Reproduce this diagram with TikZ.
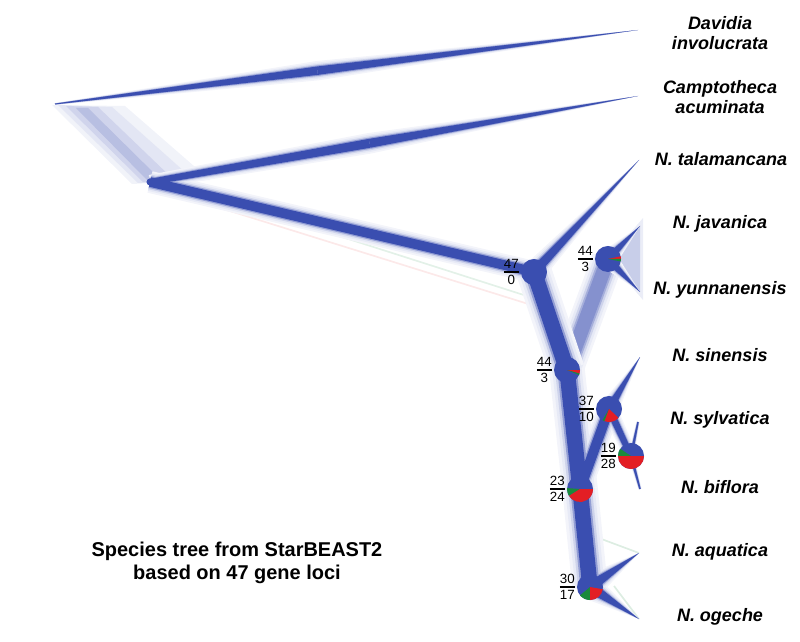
\documentclass[tikz,border=0pt]{standalone}
\usepackage{amsmath}
\usepackage{fontspec}
\setmainfont{Liberation Sans}
\usetikzlibrary{calc,positioning}

\definecolor{tree}{RGB}{58,78,176}
\definecolor{pred}{RGB}{227,30,36}
\definecolor{pgreen}{RGB}{26,138,60}

% tapered branch: from, to, half width at from, half width at to
\newcommand{\limb}[4]{%
  \fill[fill=\tone] ($(#1)!\wf*#3!90:(#2)$) -- ($(#2)!\wf*#4!-90:(#1)$)
    -- ($(#2)!\wf*#4!90:(#1)$) -- ($(#1)!\wf*#3!-90:(#2)$) -- cycle;}
% pie slice: node, colour, start, end
\newcommand{\slice}[4]{\fill[#2] (#1.center) -- ++(#3:9.25pt) arc[start angle=#3, end angle=#4, radius=9.25pt] -- cycle;}
\newcommand{\concord}[2]{$\genfrac{}{}{1.6pt}{}{\mbox{#1}}{\mbox{#2}}$}

\begin{document}
\begin{tikzpicture}[x=0.025cm, y=-0.025cm,
  pie/.style={circle, fill=tree, minimum size=18.5pt, inner sep=0pt},
  frac/.style={font=\fontsize{9.5}{10}\selectfont, inner sep=0pt},
  taxon/.style={font=\fontsize{12.8}{14.2}\selectfont\bfseries\itshape, align=center},
  faint/.style={line width=1.2pt}]
\useasboundingbox (0,0) rectangle (800,642);

% branch points
\coordinate (R) at (55,104);
\coordinate (kCam) at (150,182);
\coordinate (k47) at (534,272);
\coordinate (k44a) at (608,259);
\coordinate (k44b) at (567,370);
\coordinate (k37) at (609,409);
\coordinate (k19) at (631,456);
\coordinate (k23) at (580,489);
\coordinate (k30) at (590,587);
% tips
\coordinate (tD) at (638,30);
\coordinate (tC) at (638,96);
\coordinate (tT) at (639,160);
\coordinate (tJ) at (640,226);
\coordinate (tY) at (640,292);
\coordinate (tS) at (640,357);
\coordinate (tSy) at (638,422);
\coordinate (tB) at (640,489);
\coordinate (tA) at (639,553);
\coordinate (tO) at (639,619);
\coordinate (mD) at ($(R)!0.45!(tD)$);
\coordinate (mC) at ($(kCam)!0.45!(tC)$);
\coordinate (f1) at (185,197);
\coordinate (f2) at (538,307);
\coordinate (g1) at (195,190);
\coordinate (g2) at (530,297);
\coordinate (g3) at (596,537);
\coordinate (g4) at (614,586);

% faint gene tree lines
\draw[faint, pred!10] (f1) -- (f2) -- (k44b);
\draw[faint, pgreen!12] (g1) -- (g2);
\draw[faint, pgreen!15] (g3) -- (tA);
\draw[faint, pgreen!15] (g4) -- (tO);

% root fuzz
\fill[tree!7] (52,105) -- (125,106) -- (210,180) -- (132,184) -- cycle;
\fill[tree!14] (58,105) -- (112,107) -- (195,181) -- (138,183) -- cycle;
\fill[tree!24] (66,106) -- (98,107) -- (175,181) -- (143,182) -- cycle;
\fill[tree!36] (76,108) -- (88,108) -- (162,181) -- (149,182) -- cycle;
\fill[tree!10] (k44a) -- (643,218) -- (643,300) -- cycle;
\fill[tree!28] (k44a) -- (tJ) -- (tY) -- cycle;

\foreach \wf/\tone in {2.3/tree!6, 1.9/tree!12, 1.55/tree!25, 1.25/tree!45, 1/tree!62}{
  \limb{k44b}{k44a}{5pt}{5pt}
}
\foreach \wf/\tone in {2.3/tree!6, 1.9/tree!12, 1.55/tree!25, 1.25/tree!55, 1/tree}{
  \limb{R}{mD}{0.3pt}{3pt}
  \limb{mD}{tD}{3pt}{0pt}
  \limb{kCam}{mC}{2.2pt}{3.2pt}
  \limb{mC}{tC}{3.2pt}{0pt}
  \limb{kCam}{k47}{3.4pt}{3.4pt}
  \limb{k47}{tT}{3.5pt}{0pt}
  \limb{k47}{k44b}{5.5pt}{5.5pt}
  \limb{k44b}{k23}{5.5pt}{5.5pt}
  \limb{k23}{k30}{5.5pt}{5.5pt}
  \limb{k23}{k37}{3.5pt}{3.5pt}
  \limb{k37}{tS}{3pt}{0pt}
  \limb{k37}{k19}{2.5pt}{2pt}
  \limb{k19}{tSy}{1pt}{0.5pt}
  \limb{k19}{tB}{1pt}{0.5pt}
  \limb{k44a}{tJ}{3pt}{0pt}
  \limb{k44a}{tY}{3pt}{0pt}
  \limb{k30}{tA}{4pt}{0pt}
  \limb{k30}{tO}{4pt}{0pt}
}
\fill[tree] (kCam) circle[radius=2.5pt];

% pies of gene tree concordance
\node[pie] (p47) at (k47) {};
\node[pie] (p44a) at (k44a) {};
\slice{p44a}{pred}{0}{12} \slice{p44a}{pgreen}{-11}{0}
\node[pie] (p44b) at (k44b) {};
\slice{p44b}{pred}{-16}{0} \slice{p44b}{pgreen}{-23}{-16}
\node[pie] (p37) at (k37) {};
\slice{p37}{pgreen}{240}{250} \slice{p37}{pred}{250}{317}
\node[pie] (p19) at (k19) {};
\slice{p19}{pgreen}{146}{180} \slice{p19}{pred}{180}{360}
\node[pie] (p23) at (k23) {};
\slice{p23}{pgreen}{176}{212} \slice{p23}{pred}{212}{360}
\node[pie] (p30) at (k30) {};
\slice{p30}{pgreen}{220}{270} \slice{p30}{pred}{270}{350}

\node[frac, left=0pt of p47] (f47) {\concord{47}{0}};
\node[frac, left=0pt of p44a] (f44a) {\concord{44}{3}};
\node[frac, left=0pt of p44b] (f44b) {\concord{44}{3}};
\node[frac, left=0pt of p37] (f37) {\concord{37}{10}};
\node[frac, left=0pt of p19] (f19) {\concord{19}{28}};
\node[frac, left=0pt of p23] (f23) {\concord{23}{24}};
\node[frac, left=0pt of p30] (f30) {\concord{30}{17}};

% taxa
\node[taxon] (lD) at (720,33) {Davidia\\involucrata};
\node[taxon] (lC) at (720,97) {Camptotheca\\acuminata};
\node[taxon] (lT) at (721,159) {N. talamancana};
\node[taxon] (lJ) at (720,224) {N. javanica};
\node[taxon] (lY) at (720,290) {N. yunnanensis};
\node[taxon] (lS) at (720,355) {N. sinensis};
\node[taxon] (lSy) at (720,420) {N. sylvatica};
\node[taxon] (lB) at (720,487) {N. biflora};
\node[taxon] (lA) at (720,552) {N. aquatica};
\node[taxon] (lO) at (720,617) {N. ogeche};

\node[font=\fontsize{14.2}{16.4}\selectfont\bfseries, align=center] (title) at (237,563)
  {Species tree from StarBEAST2\\based on 47 gene loci};
\end{tikzpicture}
\end{document}
